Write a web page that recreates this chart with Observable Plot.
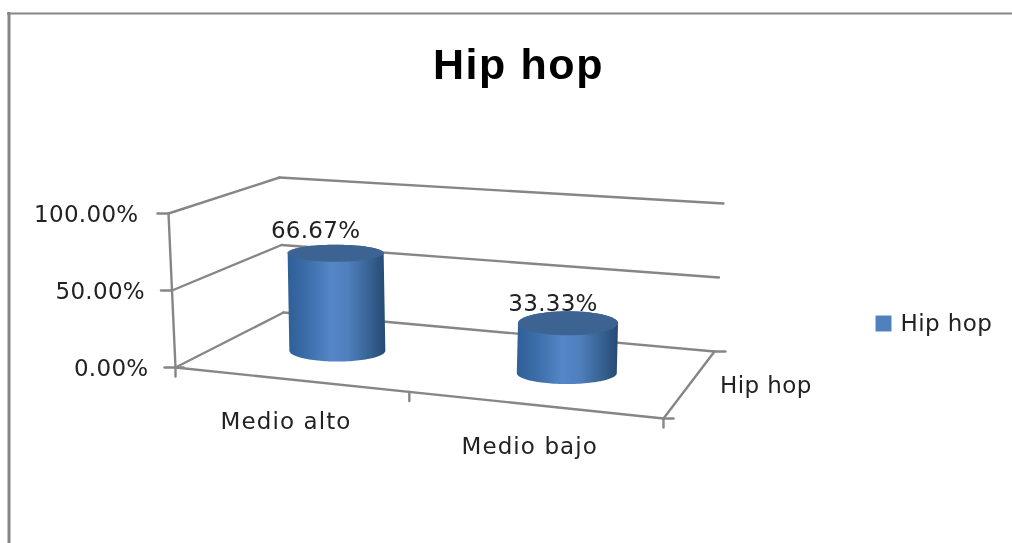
<!DOCTYPE html>
<html>
<head>
<meta charset="utf-8">
<script src="https://cdn.jsdelivr.net/npm/d3@7"></script>
<script src="https://cdn.jsdelivr.net/npm/@observablehq/plot@0.6"></script>
<style>
html,body{margin:0;padding:0;background:#fff;overflow:hidden}
svg{display:block;filter:blur(.5px)}
</style>
</head>
<body>
<div id="chart"></div>
<script>
// ---- chart values ----
const categories = ["Medio alto", "Medio bajo"];
const values = [66.67, 33.33];
const valueLabels = ["66.67%", "33.33%"];
const valueTicks = [0, 50, 100];
const valueTickLabels = ["0.00%", "50.00%", "100.00%"];
const seriesName = "Hip hop";

// ---- 3D box projection (pixel corners of the chart's perspective box) ----
const W = 1012, H = 543;
const corners = {
  f0: [[175, 367], [663, 418]],   // front floor, left/right
  b0: [[283, 312], [714, 351]],   // back floor
  f1: [[168, 213], [668, 264]],   // front top
  b1: [[279, 177], [723, 203]]    // back top
};
const lerp = (a, b, t) => a + (b - a) * t;
const warp = u => 0.92 * u / (1 + (0.92 - 1) * u);
function project(u, d, v) {
  // u across categories 0..1, d depth 0..1, v value 0..100
  const s = warp(u), t = v / 100;
  const corner = (row) => [lerp(row[0][0], row[1][0], s), lerp(row[0][1], row[1][1], s)];
  const f0 = corner(corners.f0), b0 = corner(corners.b0), f1 = corner(corners.f1), b1 = corner(corners.b1);
  const p0 = [lerp(f0[0], b0[0], d), lerp(f0[1], b0[1], d)];
  const p1 = [lerp(f1[0], b1[0], d), lerp(f1[1], b1[1], d)];
  return [lerp(p0[0], p1[0], t), lerp(p0[1], p1[1], t)];
}
const seg = (a, b, id) => [{x: a[0], y: a[1], id}, {x: b[0], y: b[1], id}];

// ---- box lines ----
let lines = [];
valueTicks.forEach((v, i) => {
  lines.push(...seg(project(0, 0, v), project(0, 1, v), "wall" + i));
  lines.push(...seg(project(0, 1, v), project(1, 1, v), "back" + i));
});
lines.push(...seg(project(1, 0, 0), project(0, 0, 0), "front"));
lines.push(...seg(project(1, 0, 0), project(1, 1, 0), "side"));
lines.push(...seg(project(0, 0, 100), project(0, 0, 0), "axis"));
const tickLen = 11;
valueTicks.forEach((v, i) => {
  const p = project(0, 0, v);
  lines.push(...seg([p[0] - tickLen, p[1]], [p[0] + (v === 0 ? 8 : 0), p[1]], "ytick" + i));
});
[0, 0.5, 1].forEach((u, i) => {
  const p = project(u, 0, 0);
  lines.push(...seg(p, [p[0], p[1] + 9], "xtick" + i));
});
{ const p = project(1, 0, 0); lines.push(...seg(p, [p[0] + 10, p[1]], "xext")); }
{ const p = project(1, 1, 0); lines.push(...seg(p, [p[0] + 11, p[1]], "zext")); }

// ---- cylinders ----
const shape = [{rx: 48, ryTop: 8.5, ryBot: 11}, {rx: 50, ryTop: 12, ryBot: 11}];
const arc = (c, rx, ry, a0, a1, id) => d3.range(0, 61).map(i => {
  const a = lerp(a0, a1, i / 60);
  return {x: c[0] + rx * Math.cos(a), y: c[1] + ry * Math.sin(a), id};
});
const cylBody = [], cylTop = [], tops = [];
categories.forEach((c, i) => {
  const u = (i + 0.5) / categories.length;
  const base = project(u, 0.5, 0), top = project(u, 0.5, values[i]);
  const s = shape[i];
  tops.push(top);
  cylBody.push(
    ...arc(base, s.rx, s.ryBot, Math.PI, 0, "b" + i),
    ...arc(top, s.rx, s.ryTop, 0, -Math.PI, "b" + i)
  );
  cylTop.push(...arc(top, s.rx, s.ryTop, 0, 2 * Math.PI, "t" + i));
});

// ---- labels ----
const labelOffset = [[-20, -23], [-15, -20]];
const dataLabels = categories.map((c, i) => ({
  x: tops[i][0] + labelOffset[i][0], y: tops[i][1] + labelOffset[i][1], t: valueLabels[i]
}));
const yLabels = valueTicks.map((v, i) => {
  const p = project(0, 0, v);
  return {x: p[0] - (v === 100 ? 30 : 27), y: p[1] + 1, t: valueTickLabels[i]};
});
const catLabels = categories.map((c, i) => {
  const p = project((i + 0.5) / categories.length, 0, 0);
  return {x: p[0] - 4, y: p[1] + 42, t: c};
});
const depthPos = project(1, 0.5, 0);
const gray = "#868686";
const ink = "#222";

const chart = Plot.plot({
  width: W, height: H,
  margin: 0,
  x: {type: "linear", domain: [0, W], range: [0, W], axis: null},
  y: {type: "linear", domain: [0, H], range: [0, H], axis: null},
  style: {fontFamily: "'DejaVu Sans'", background: "#fff"},
  marks: [
    Plot.ruleX([8.5], {y1: 12, y2: H, stroke: gray, strokeWidth: 3}),
    Plot.ruleY([13], {x1: 7, x2: W, stroke: gray, strokeWidth: 2}),
    Plot.line(lines, {x: "x", y: "y", z: "id", stroke: gray, strokeWidth: 2.4, curve: "linear"}),
    Plot.text([seriesName], {x: () => 518, y: () => 65, text: d => d, fontSize: 43, fontWeight: "bold", fill: "#000", fontFamily: "'Liberation Sans'"}),
    Plot.text(yLabels, {x: "x", y: "y", text: "t", textAnchor: "end", fontSize: 23, fill: ink}),
    Plot.text(catLabels, {x: "x", y: "y", text: "t", fontSize: 23, fill: ink}),
    Plot.text([seriesName], {x: () => depthPos[0] + 31, y: () => depthPos[1] + 1, text: d => d, textAnchor: "start", fontSize: 23, fill: ink}),
    Plot.text(dataLabels, {x: "x", y: "y", text: "t", fontSize: 23, fill: ink}),
    Plot.line(cylBody, {x: "x", y: "y", z: "id", fill: "url(#cylBody)", stroke: "none", curve: "linear"}),
    Plot.line(cylTop, {x: "x", y: "y", z: "id", fill: "#3c6391", stroke: "none", curve: "linear"}),
    Plot.dot([seriesName], {x: () => 883, y: () => 323, symbol: "square", r: 9, fill: "#4f81bd", stroke: "none"}),
    Plot.text([seriesName], {x: () => 900, y: () => 323, text: d => d, textAnchor: "start", fontSize: 23, fill: ink})
  ]
});

const defs = d3.select(chart).append("defs");
const grad = defs.append("linearGradient").attr("id", "cylBody").attr("x1", 0).attr("x2", 1).attr("y1", 0).attr("y2", 0);
[[0, "#2f5f97"], [0.18, "#3a6ca8"], [0.45, "#5586c6"], [0.62, "#4f7fbd"], [0.85, "#35608f"], [1, "#264a75"]]
  .forEach(([o, c]) => grad.append("stop").attr("offset", o).attr("stop-color", c));

// the reference's text is stretched horizontally: widen with letter spacing
const spacing = [1.6, 0.3, 1.1, 0.4, 0.3, 0.4];
d3.select(chart).selectAll('g[aria-label="text"]').each(function(_, i) {
  d3.select(this).attr("letter-spacing", spacing[i]);
});
document.getElementById("chart").appendChild(chart);
</script>
</body>
</html>
